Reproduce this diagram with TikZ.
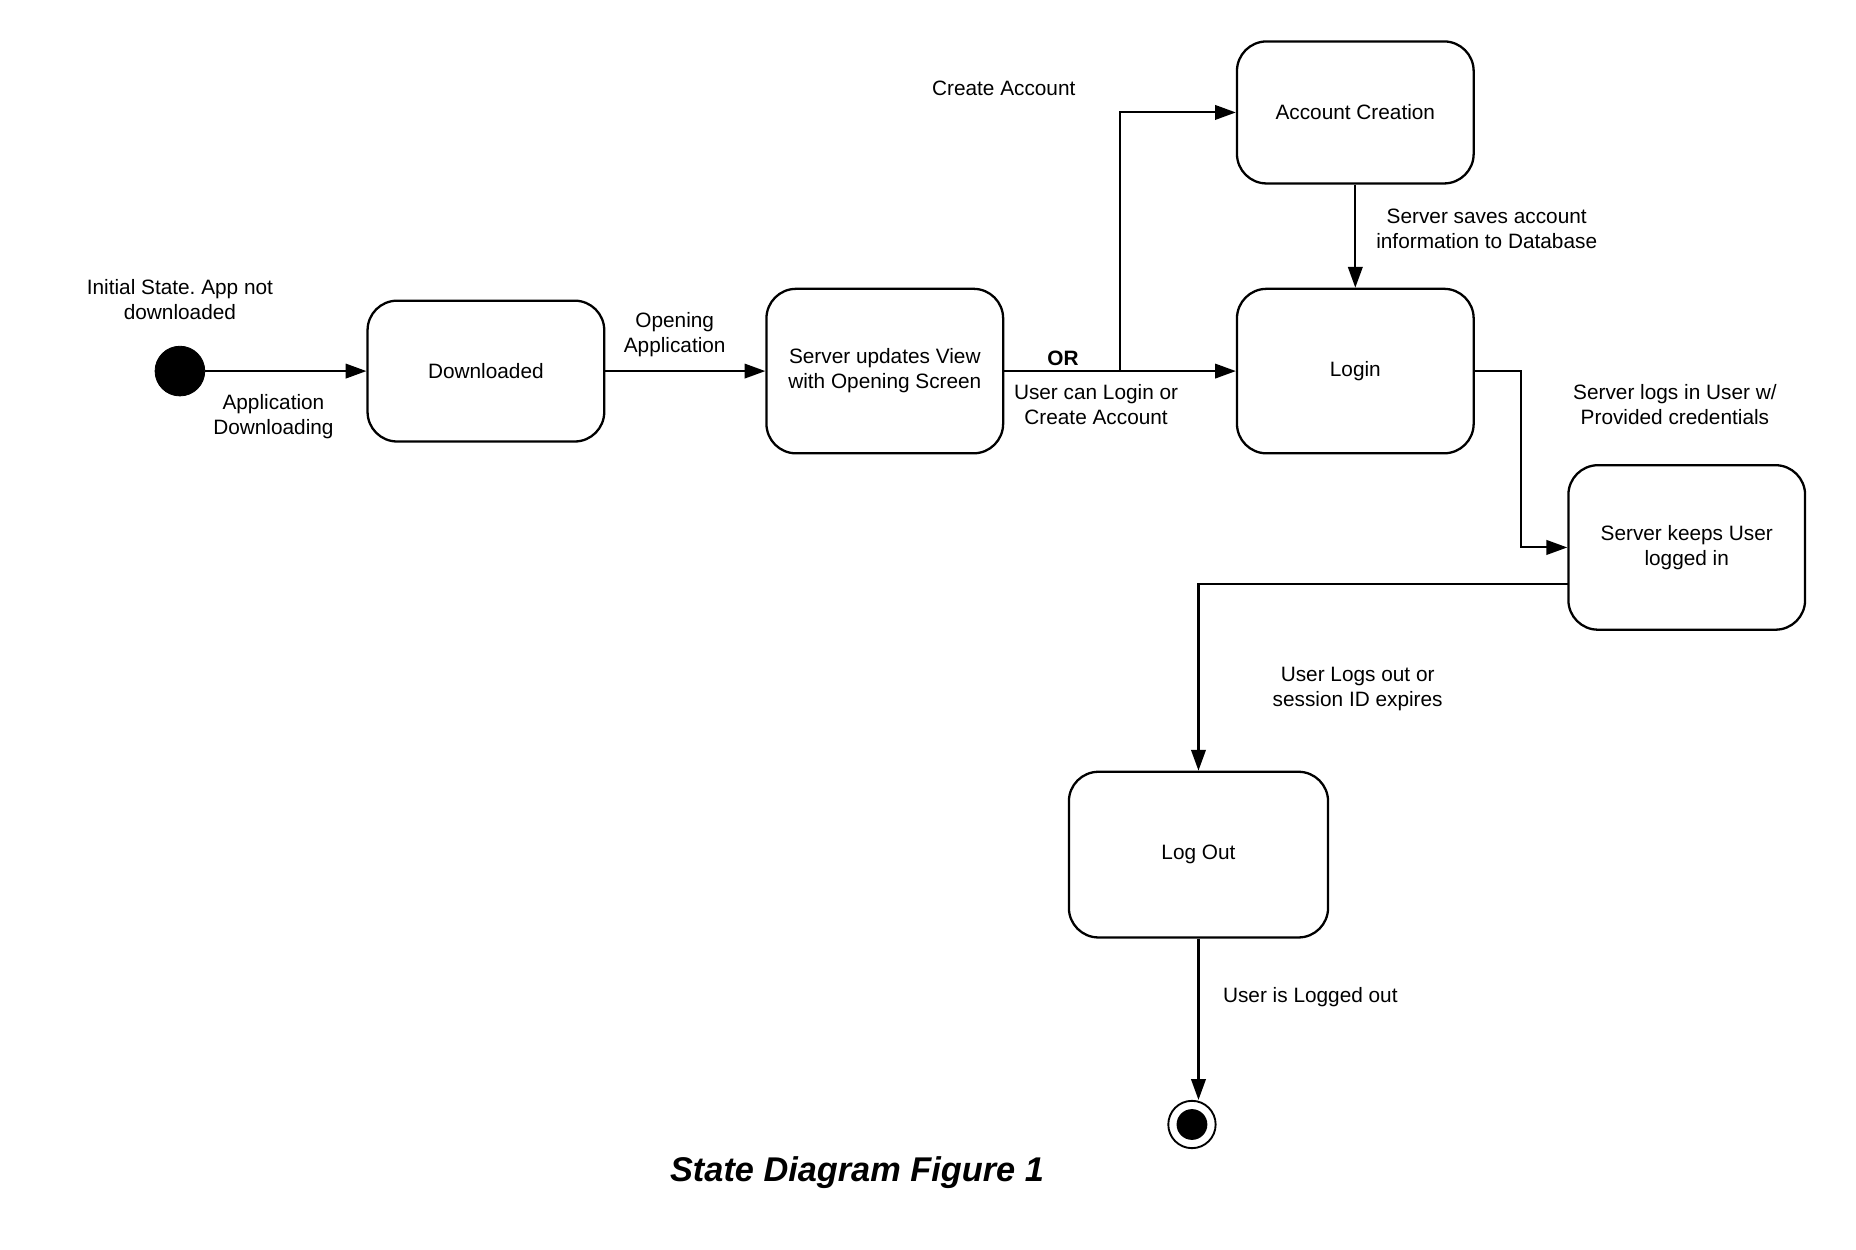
\documentclass[tikz,border=0pt]{standalone}
\usepackage{fontspec}
\setmainfont{Liberation Sans}
\frenchspacing
\usetikzlibrary{shapes,arrows.meta,positioning}
\tikzstyle{state} = [rectangle, rounded corners=0.5cm, draw, line width=1.1pt, minimum width=4cm, minimum height=2.4cm, align=center, font=\fontsize{10}{12}\selectfont]
\tikzstyle{istate} = [circle, fill, draw, inner sep=0pt, minimum size=0.84cm]
\tikzstyle{fstate} = [circle, draw, line width=0.9pt, inner sep=0pt, minimum size=0.8cm, path picture={\fill (path picture bounding box.center) circle (0.26cm);}]
\tikzstyle{txt} = [align=center, inner sep=0pt, font=\fontsize{10}{12}\selectfont]
\tikzstyle{line} = [draw, line width=1pt, -{Triangle[length=10pt, width=7pt]}]

\begin{document}
\begin{tikzpicture}[x=0.02cm, y=-0.02cm]
			\useasboundingbox (0,0) rectangle (1568,1055.2);

			\node [istate, label={[txt, yshift=0.43cm]above:{Initial State. App not\\downloaded}}] (init) at (152,313.5) {};
			\node [state, minimum height=2.38cm] (dl) at (410.5,313.5) {Downloaded};
			\node [state, minimum height=2.78cm] (view) at (747.5,313.5) {Server updates View\\with Opening Screen};
			\node [state] (acc) at (1145,95) {Account Creation};
			\node [state, minimum height=2.78cm] (login) at (1145,313.5) {Login};
			\node [state, minimum height=2.78cm] (keep) at (1425,462.5) {Server keeps User\\logged in};
			\node [state, minimum width=4.38cm, minimum height=2.8cm] (logout) at (1012.5,722) {Log Out};
			\node [fstate] (final) at (1007,950) {};

			\coordinate (split) at (946,313.5);
			\coordinate (bend) at (1285,313.5);
			\coordinate (kout) at (1325,493);

			\node [txt] (down) at (231,352) {Application\\Downloading};
			\node [txt] (open) at (570,283) {Opening\\Application};
			\node [txt, font=\fontsize{10}{12}\selectfont\bfseries] (or) at (898,303) {OR};
			\node [txt] (choose) at (926,342) {User can Login or\\Create Account};
			\node [txt] (create) at (848,75) {Create Account};
			\node [txt] (save) at (1256,193) {Server saves account\\information to Database};
			\node [txt] (logsin) at (1415,342) {Server logs in User w/\\Provided credentials};
			\node [txt] (expire) at (1147,582) {User Logs out or\\session ID expires};
			\node [txt] (loggedout) at (1107,842) {User is Logged out};
			\node [font=\fontsize{16.5}{20}\selectfont\bfseries\itshape] (title) at (724,991) {State Diagram Figure 1};

			\path [line] (init) -- (dl);
			\path [line] (dl) -- (view);
			\path [line] (view) -- (login);
			\path [line] (split) |- (acc);
			\path [line] (acc) -- (login);
			\path [line] (login) -- (bend) |- (keep);
			\path [line] (kout) -| (logout);
			\path [line] (logout) -- (logout |- final.north);
		\end{tikzpicture}
\end{document}
